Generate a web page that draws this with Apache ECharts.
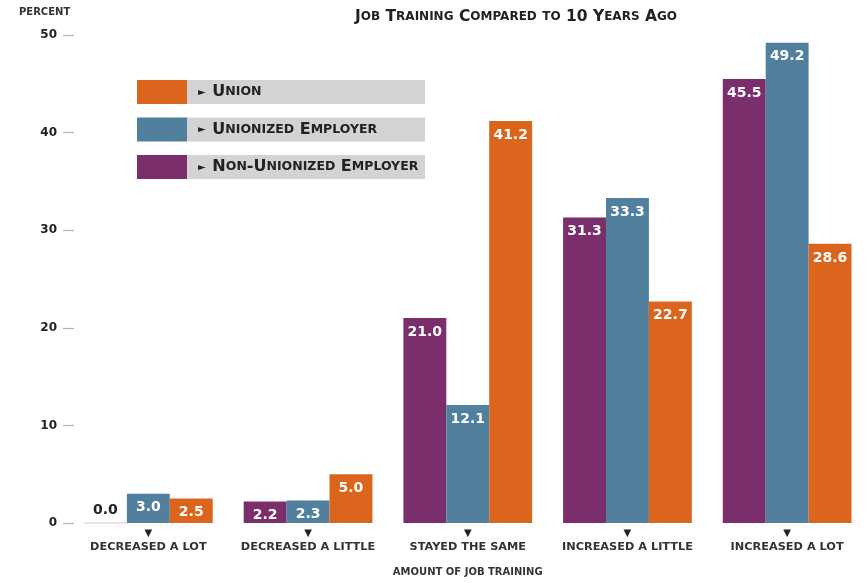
<!DOCTYPE html>
<html>
<head>
<meta charset="utf-8">
<script src="https://cdn.jsdelivr.net/npm/echarts@6/dist/echarts.min.js"></script>
<style>
  html, body { margin: 0; padding: 0; background: #ffffff; }
  #chart { width: 867px; height: 583px; }
</style>
</head>
<body>
<div id="chart"></div>
<script>
// Share of respondents (%) by change in job training vs. ten years ago
const categories = ['DECREASED A LOT', 'DECREASED A LITTLE', 'STAYED THE SAME', 'INCREASED A LITTLE', 'INCREASED A LOT'];
const nonUnionizedEmployer = [0.0, 2.2, 21.0, 31.3, 45.5];
const unionizedEmployer = [3.0, 2.3, 12.1, 33.3, 49.2];
const union = [2.5, 5.0, 41.2, 22.7, 28.6];
const yTicks = [0, 10, 20, 30, 40, 50];

const titleText = 'Job Training Compared to 10 Years Ago';
const legendOrder = ['Union', 'Unionized Employer', 'Non-Unionized Employer'];

const COLORS = {
  'Non-Unionized Employer': '#7a2e6c',
  'Unionized Employer': '#51809f',
  'Union': '#dc651e'
};
const FONT = 'DejaVu Sans';
const INK = '#222222';

// Build a small-caps rich string: capitals/digits in {c|}, lowercase raised to caps in {s|}
function smallCaps(str) {
  let out = '';
  let run = '';
  let mode = null;
  const flush = () => { if (run) out += '{' + mode + '|' + run + '}'; run = ''; };
  for (const ch of str) {
    const m = (ch >= 'a' && ch <= 'z') ? 's' : 'c';
    if (m !== mode) { flush(); mode = m; }
    run += m === 's' ? ch.toUpperCase() : ch;
  }
  flush();
  return out;
}

function barSeries(name, values) {
  return {
    name: name,
    type: 'bar',
    barGap: 0,
    barCategoryGap: '19.4%',
    itemStyle: { color: COLORS[name] },
    label: {
      show: true,
      position: 'insideTop',
      distance: 7,
      color: '#ffffff',
      fontFamily: FONT,
      fontWeight: 'bold',
      fontSize: 14,
      formatter: p => p.value.toFixed(1)
    },
    data: values.map(v => v === 0 ? {
      value: v,
      itemStyle: { borderColor: '#e8d6e2', borderWidth: 1 },
      label: { position: 'top', distance: 5, color: INK }
    } : v),
    animation: false
  };
}

// Legend rows: colour swatch followed by a grey name strip
const legendGraphics = [];
legendOrder.forEach((name, i) => {
  const y = 80 + i * 37.5;
  legendGraphics.push({
    type: 'rect', left: 137, top: y,
    shape: { width: 50, height: 24 },
    style: { fill: COLORS[name] }
  });
  legendGraphics.push({
    type: 'rect', left: 187, top: y,
    shape: { width: 238, height: 24 },
    style: { fill: '#d3d3d5' }
  });
  legendGraphics.push({
    type: 'text', left: 198, top: y + 4,
    style: {
      text: '{t|►}  ' + smallCaps(name),
      fill: INK,
      rich: {
        t: { fontSize: 10, fontFamily: FONT, fill: INK, verticalAlign: 'middle' },
        c: { fontSize: 16, fontFamily: FONT, fontWeight: 'bold', fill: INK },
        s: { fontSize: 12.5, fontFamily: FONT, fontWeight: 'bold', fill: INK }
      }
    }
  });
});

const chart = echarts.init(document.getElementById('chart'), null, { renderer: 'canvas' });
chart.setOption({
  backgroundColor: '#ffffff',
  title: [
    {
      text: smallCaps(titleText),
      left: 511, top: 4, textAlign: 'center',
      textStyle: {
        rich: {
          c: { fontSize: 15.5, fontFamily: FONT, fontWeight: 'bold', color: INK },
          s: { fontSize: 12, fontFamily: FONT, fontWeight: 'bold', color: INK }
        }
      }
    },
    {
      text: 'PERCENT',
      left: 14, top: 2,
      textStyle: { fontSize: 10, fontFamily: FONT, fontWeight: 'bold', color: '#333333' }
    }
  ],
  grid: { left: 68.5, top: 35, width: 800, height: 488 },
  xAxis: {
    type: 'category',
    data: categories,
    axisLine: { show: false },
    axisTick: { show: false },
    axisLabel: {
      margin: 4,
      interval: 0,
      formatter: v => '{t|▼}\n{n|' + v + '}',
      rich: {
        t: { fontSize: 10, lineHeight: 12, color: INK, fontFamily: FONT },
        n: { fontSize: 11.3, lineHeight: 16, color: '#333333', fontFamily: FONT, fontWeight: 'bold' }
      }
    },
    name: 'AMOUNT OF JOB TRAINING',
    nameLocation: 'middle',
    nameGap: 44,
    nameTextStyle: { fontSize: 10, fontFamily: FONT, fontWeight: 'bold', color: '#333333' }
  },
  yAxis: {
    type: 'value',
    min: yTicks[0],
    max: yTicks[yTicks.length - 1],
    interval: yTicks[1] - yTicks[0],
    offset: 5.5,
    axisLine: { show: false },
    axisTick: { show: true, inside: true, length: 11, lineStyle: { color: '#9db8cc', width: 1.2 } },
    splitLine: { show: false },
    axisLabel: { margin: 6, fontSize: 12, fontFamily: FONT, fontWeight: 'bold', color: INK }
  },
  graphic: legendGraphics,
  series: [
    barSeries('Non-Unionized Employer', nonUnionizedEmployer),
    barSeries('Unionized Employer', unionizedEmployer),
    barSeries('Union', union)
  ],
  animation: false
});
</script>
</body>
</html>
